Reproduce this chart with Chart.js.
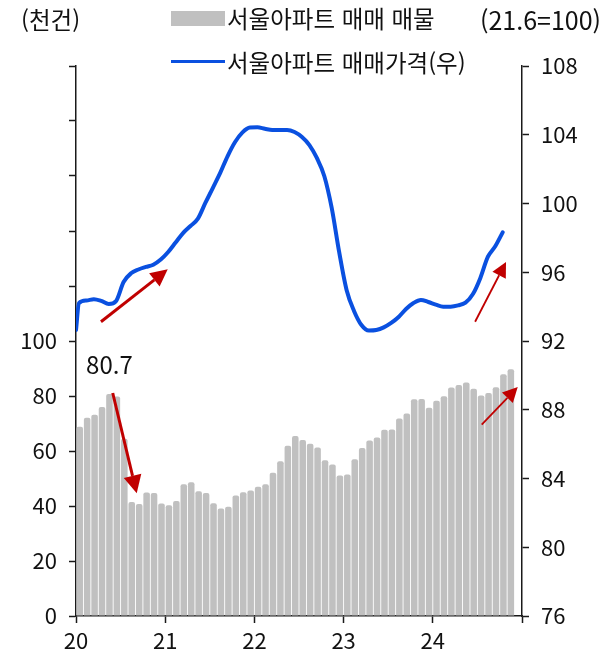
<!DOCTYPE html>
<html lang="ko">
<head>
<meta charset="utf-8">
<title>서울아파트 매매 매물과 매매가격</title>
<script src="https://cdn.jsdelivr.net/npm/chart.js@4.4.1/dist/chart.umd.min.js"></script>
<style>
  html, body { margin: 0; padding: 0; background: #fff; }
  #wrap { position: relative; width: 610px; height: 655px; font-family: "Noto Sans CJK KR", "Noto Sans", sans-serif; color: #111; }
  #wrap canvas { position: absolute; left: 0; top: 0; }
  .txt { position: absolute; font-size: 23.5px; line-height: 24px; white-space: nowrap; }
  .swatch { position: absolute; }
</style>
</head>
<body>
<div id="wrap">
  <canvas id="c" width="610" height="655"></canvas>
  <div class="txt" style="left:21px; top:7px;">(천건)</div>
  <div class="txt" style="right:9px; top:7px; font-size:25px;">(21.6=100)</div>
  <div class="swatch" style="left:171px; top:11px; width:54px; height:15px; background:#c0c0c0;"></div>
  <div class="txt" style="left:227px; top:6px;">서울아파트 매매 매물</div>
  <div class="swatch" style="left:171px; top:60px; width:54px; height:3px; background:#0a50e0;"></div>
  <div class="txt" style="left:227px; top:50px;">서울아파트 매매가격(우)</div>
</div>
<script>
// Year labels on the month axis (one tick every 12 months from Jan 2020)
const yearLabels = ['20', '21', '22', '23', '24'];

// Monthly Seoul apartment sale listings (thousand), Jan 2020 - Nov 2024
const listings = [
  68.8, 72.1, 73.2, 76.0, 80.7, 79.8, 64.5, 41.5, 40.7, 44.9, 44.7, 40.9,
  40.3, 41.8, 47.9, 48.6, 45.4, 44.7, 41.0, 39.1, 39.7, 43.8, 45.0, 45.6,
  47.0, 47.9, 52.1, 56.3, 61.9, 65.5, 64.0, 62.6, 61.3, 56.6, 55.1, 51.1,
  51.5, 57.0, 61.1, 63.8, 64.9, 67.7, 67.8, 71.8, 73.6, 78.8, 78.9, 75.7,
  78.3, 79.9, 83.1, 84.0, 84.9, 82.6, 80.2, 81.1, 83.2, 87.9, 89.7
];
// Month whose listing count is called out (2020 peak)
const calloutMonth = 4;

// Opening value of the price index at the start of the axis
const priceStart = 92.64;
// Monthly Seoul apartment sale price index (2021.6 = 100), Jan 2020 - Oct 2024
const priceIndex = [
  94.21, 94.36, 94.43, 94.33, 94.15, 94.33, 95.43, 95.94, 96.16, 96.31, 96.44, 96.74,
  97.18, 97.73, 98.28, 98.69, 99.12, 100.03, 100.9, 101.78, 102.76, 103.58, 104.14, 104.42,
  104.43, 104.35, 104.28, 104.28, 104.28, 104.16, 103.87, 103.4, 102.65, 101.6, 99.74, 97.18,
  94.97, 93.75, 92.93, 92.61, 92.64, 92.79, 93.05, 93.4, 93.86, 94.21, 94.39, 94.27,
  94.12, 94.0, 94.0, 94.07, 94.23, 94.73, 95.67, 96.89, 97.51, 98.32
];

const GREY = '#c0c0c0';
const BLUE = '#0a50e0';
const RED = '#c00000';
const AXIS = '#1a1a1a';
const FONT = '"Noto Sans CJK KR", "Noto Sans", sans-serif';

const barPoints = listings.map((v, i) => ({ x: i + 0.5, y: v }));
const linePoints = [{ x: 0, y: priceStart }].concat(priceIndex.map((v, i) => ({ x: i + 0.4, y: v })));

// Trend arrows, given in axis units: [month, value] tail -> head
const arrows = [
  { axis: 'yR', from: [3.36, 93.12], to: [12.34, 96.17], width: 3, head: 17 },
  { axis: 'yL', from: [4.94, 81.1], to: [8.17, 44.6], width: 3, head: 18 },
  { axis: 'yR', from: [53.69, 93.12], to: [57.85, 96.6], width: 1.8, head: 15 },
  { axis: 'yL', from: [54.58, 69.6], to: [59.43, 83.3], width: 1.8, head: 15 }
];

const annotate = {
  id: 'annotate',
  afterDatasetsDraw(chart) {
    const { ctx, scales } = chart;
    const x = scales.x;
    ctx.save();
    // Call-out label above the 2020 peak bar
    ctx.fillStyle = '#111';
    ctx.font = '24px ' + FONT;
    ctx.textAlign = 'center';
    ctx.textBaseline = 'middle';
    ctx.fillText(listings[calloutMonth].toFixed(1), x.getPixelForValue(calloutMonth + 0.5),
      scales.yL.getPixelForValue(listings[calloutMonth]) - 29);

    // Arrows
    arrows.forEach(a => {
      const y = scales[a.axis];
      const x0 = x.getPixelForValue(a.from[0]), y0 = y.getPixelForValue(a.from[1]);
      const x1 = x.getPixelForValue(a.to[0]), y1 = y.getPixelForValue(a.to[1]);
      const ang = Math.atan2(y1 - y0, x1 - x0);
      const hl = a.head, hw = a.head * 0.5;
      const bx = x1 - hl * Math.cos(ang), by = y1 - hl * Math.sin(ang);
      ctx.strokeStyle = RED;
      ctx.fillStyle = RED;
      ctx.lineWidth = a.width;
      ctx.beginPath();
      ctx.moveTo(x0, y0);
      ctx.lineTo(bx, by);
      ctx.stroke();
      ctx.beginPath();
      ctx.moveTo(x1, y1);
      ctx.lineTo(bx + hw * Math.sin(ang), by - hw * Math.cos(ang));
      ctx.lineTo(bx - hw * Math.sin(ang), by + hw * Math.cos(ang));
      ctx.closePath();
      ctx.fill();
    });
    ctx.restore();
  }
};

const tickFont = { family: FONT, size: 22 };
const gridOpts = { drawOnChartArea: false, drawTicks: true, tickLength: 7, color: AXIS, tickWidth: 1.5, offset: false };
const borderOpts = { display: true, color: AXIS, width: 1.5 };

new Chart(document.getElementById('c'), {
  data: {
    datasets: [
      {
        type: 'line',
        label: '서울아파트 매매가격(우)',
        data: linePoints,
        xAxisID: 'x',
        yAxisID: 'yR',
        borderColor: BLUE,
        borderWidth: 4,
        pointRadius: 0,
        cubicInterpolationMode: 'monotone',
        borderCapStyle: 'round',
        borderJoinStyle: 'round',
        order: 0
      },
      {
        type: 'bar',
        label: '서울아파트 매매 매물',
        data: barPoints,
        xAxisID: 'x',
        yAxisID: 'yL',
        backgroundColor: GREY,
        categoryPercentage: 1,
        barPercentage: 0.88,
        borderRadius: { topLeft: 2, topRight: 2 },
        borderSkipped: 'bottom',
        order: 1
      }
    ]
  },
  options: {
    responsive: false,
    animation: false,
    layout: { padding: { top: 66, left: 0, right: 0, bottom: 0 } },
    plugins: { legend: { display: false }, tooltip: { enabled: false } },
    scales: {
      x: {
        type: 'linear',
        position: 'bottom',
        offset: false,
        min: 0,
        max: 60,
        ticks: {
          stepSize: 12,
          autoSkip: false,
          maxRotation: 0,
          padding: 4,
          font: tickFont,
          color: '#111',
          callback: v => (yearLabels[v / 12] !== undefined ? yearLabels[v / 12] : '')
        },
        grid: gridOpts,
        border: borderOpts,
        afterFit: s => { s.height = 39; }
      },
      yL: {
        type: 'linear',
        position: 'left',
        min: 0,
        max: 200,
        ticks: {
          stepSize: 20,
          padding: 12,
          font: tickFont,
          color: '#111',
          callback: v => (v <= 100 ? String(v) : '')
        },
        grid: gridOpts,
        border: borderOpts,
        afterFit: s => { s.width = 76; }
      },
      yR: {
        type: 'linear',
        position: 'right',
        min: 76,
        max: 108,
        ticks: { stepSize: 4, padding: 12, font: tickFont, color: '#111' },
        grid: gridOpts,
        border: borderOpts,
        afterFit: s => { s.width = 88; }
      }
    }
  },
  plugins: [annotate]
});
</script>
</body>
</html>
